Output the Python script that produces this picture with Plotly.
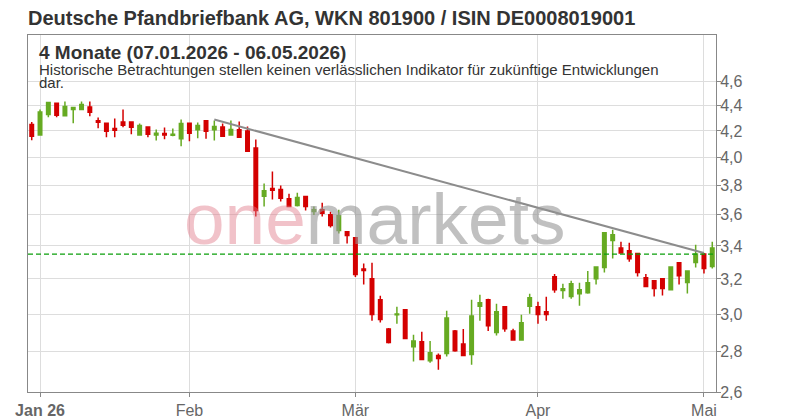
import plotly.graph_objects as go
import pandas as pd
import math

# trading days (Xetra), 06.01.2026 - 05.05.2026
holidays = ["2026-04-03", "2026-04-06", "2026-05-01"]
dates = [d.strftime("%Y-%m-%d") for d in pd.bdate_range("2026-01-06", "2026-05-05")
         if d.strftime("%Y-%m-%d") not in holidays]

open_ = [4.25, 4.17, 4.33, 4.42, 4.32, 4.37, 4.37, 4.39, 4.28, 4.26,
         4.22, 4.27, 4.27, 4.17, 4.23, 4.17, 4.18, 4.167, 4.14, 4.26,
         4.21, 4.28, 4.21, 4.23, 4.17, 4.21, 4.20, 4.07, 3.725, 3.778,
         3.771, 3.709, 3.663, 3.723, 3.623, 3.634, 3.601, 3.498, 3.490, 3.452,
         3.260, 3.201, 3.080, 2.919, 2.996, 3.024, 2.826, 2.851, 2.754, 2.780,
         2.790, 2.909, 2.840, 2.785, 3.043, 3.080, 2.900, 3.041, 2.909, 2.861,
         3.043, 3.041, 3.013, 3.213, 3.133, 3.099, 3.114, 3.120, 3.201, 3.268,
         3.434, 3.388, 3.370, 3.353, 3.207, 3.189, 3.201, 3.137, 3.297, 3.179,
         3.299, 3.351, 3.274]
high = [4.27, 4.37, 4.426, 4.418, 4.434, 4.385, 4.434, 4.434, 4.305, 4.258,
        4.297, 4.369, 4.266, 4.258, 4.234, 4.211, 4.227, 4.219, 4.289, 4.266,
        4.266, 4.281, 4.281, 4.258, 4.281, 4.274, 4.234, 4.134, 3.813, 3.898,
        3.799, 3.743, 3.750, 3.723, 3.656, 3.681, 3.621, 3.634, 3.490, 3.452,
        3.292, 3.297, 3.103, 2.925, 3.041, 3.024, 2.888, 2.904, 2.856, 2.790,
        3.018, 2.914, 2.919, 3.080, 3.109, 3.086, 3.058, 3.041, 2.921, 2.996,
        3.114, 3.069, 3.097, 3.230, 3.172, 3.189, 3.178, 3.248, 3.272, 3.483,
        3.503, 3.427, 3.421, 3.357, 3.230, 3.189, 3.201, 3.272, 3.297, 3.248,
        3.407, 3.357, 3.427]
low = [4.13, 4.17, 4.307, 4.307, 4.323, 4.260, 4.371, 4.315, 4.221, 4.151,
       4.151, 4.229, 4.174, 4.174, 4.151, 4.128, 4.136, 4.159, 4.083, 4.121,
       4.144, 4.141, 4.128, 4.159, 4.167, 4.151, 4.047, 3.590, 3.656, 3.704,
       3.690, 3.656, 3.656, 3.629, 3.599, 3.590, 3.518, 3.479, 3.415, 3.211,
       3.168, 2.964, 2.954, 2.842, 2.948, 2.868, 2.750, 2.760, 2.744, 2.709,
       2.775, 2.800, 2.780, 2.734, 2.964, 2.909, 2.884, 2.904, 2.861, 2.861,
       3.002, 2.948, 2.964, 3.120, 3.086, 3.086, 3.047, 3.114, 3.168, 3.238,
       3.323, 3.357, 3.303, 3.215, 3.156, 3.099, 3.105, 3.137, 3.168, 3.116,
       3.268, 3.232, 3.262]
close = [4.16, 4.35, 4.426, 4.323, 4.393, 4.385, 4.409, 4.347, 4.268, 4.198,
         4.206, 4.245, 4.229, 4.242, 4.174, 4.182, 4.170, 4.174, 4.258, 4.182,
         4.242, 4.198, 4.234, 4.159, 4.211, 4.151, 4.047, 3.629, 3.764, 3.766,
         3.711, 3.656, 3.716, 3.656, 3.634, 3.610, 3.531, 3.594, 3.466, 3.227,
         3.250, 2.998, 2.970, 2.847, 3.001, 2.868, 2.856, 2.760, 2.794, 2.765,
         2.979, 2.805, 2.780, 2.990, 3.063, 2.936, 3.013, 2.920, 2.861, 2.953,
         3.091, 2.998, 2.998, 3.137, 3.143, 3.172, 3.137, 3.178, 3.272, 3.483,
         3.471, 3.357, 3.321, 3.238, 3.156, 3.145, 3.145, 3.272, 3.219, 3.248,
         3.351, 3.262, 3.388]

trend_idx = [22, 81]
trend_values = [4.289, 3.356]
ref_level = 3.35

x_tick_idx = [1, 19, 39, 61, 81]
x_tick_text = ["<b>Jan 26</b>", "Feb", "Mär", "Apr", "Mai"]
y_ticks = [2.6, 2.8, 3.0, 3.2, 3.4, 3.6, 3.8, 4.0, 4.2, 4.4, 4.6]
y_tick_text = ["2,6", "2,8", "3,0", "3,2", "3,4", "3,6", "3,8", "4,0", "4,2", "4,4", "4,6"]

GREEN = "#66aa22"
RED = "#d40000"
FONT = "Liberation Sans, Arial, sans-serif"

# the page body adds an 8px offset; figure is sized so the plot lands where the reference has it
W, H = 792, 412
L, T, PW, PH = 20, 27, 688, 357

fig = go.Figure()

fig.add_trace(go.Candlestick(
    x=dates, open=open_, high=high, low=low, close=close,
    increasing=dict(line=dict(color=GREEN, width=1.5), fillcolor=GREEN),
    decreasing=dict(line=dict(color=RED, width=1.5), fillcolor=RED),
    whiskerwidth=0, showlegend=False, hoverinfo="skip",
))

fig.add_trace(go.Scatter(
    x=[dates[i] for i in trend_idx], y=trend_values, mode="lines",
    line=dict(color="#8c8c8c", width=2), showlegend=False, hoverinfo="skip",
))

fig.add_shape(type="line", xref="paper", x0=0, x1=1, yref="y", y0=ref_level, y1=ref_level,
              line=dict(color="#0a9e0a", width=1.2, dash="5px,3px"), layer="above")

# watermark
fig.add_annotation(
    xref="paper", yref="paper", x=0.503, y=0.487, xanchor="center", yanchor="middle",
    text="<span style='color:rgba(225,120,135,0.45)'>one</span><span style='color:rgba(150,150,150,0.6)'>markets</span>",
    showarrow=False, font=dict(family=FONT, size=73),
)

fig.add_annotation(xref="paper", yref="paper", x=0.013, y=0.9496, xanchor="left", yanchor="middle",
                   text="<b>4 Monate (07.01.2026 - 06.05.2026)</b>", showarrow=False,
                   font=dict(family=FONT, size=19, color="#333333"))
fig.add_annotation(xref="paper", yref="paper", x=0.013, y=0.902, xanchor="left", yanchor="middle",
                   text="Historische Betrachtungen stellen keinen verlässlichen Indikator für zukünftige Entwicklungen",
                   showarrow=False, font=dict(family=FONT, size=15, color="#333333"))
fig.add_annotation(xref="paper", yref="paper", x=0.013, y=0.867, xanchor="left", yanchor="middle",
                   text="dar.", showarrow=False, font=dict(family=FONT, size=15, color="#333333"))

fig.update_layout(
    width=W, height=H,
    margin=dict(l=L, r=W - L - PW, t=T, b=H - T - PH, autoexpand=False),
    paper_bgcolor="white", plot_bgcolor="white",
    title=dict(text="<b>Deutsche Pfandbriefbank AG, WKN 801900 / ISIN DE0008019001</b>",
               x=L / W, xanchor="left", y=1 - 10 / H, yanchor="middle",
               font=dict(family=FONT, size=20, color="#333333")),
    boxgap=0.4,
    xaxis=dict(type="category", range=[-0.45, 82.45], rangeslider=dict(visible=False),
               automargin=False,
               tickmode="array", tickvals=[dates[i] for i in x_tick_idx], ticktext=x_tick_text,
               showgrid=True, gridcolor="#dddddd", gridwidth=1,
               showline=True, linecolor="#888888", linewidth=1, mirror=True,
               ticks="outside", ticklen=4, tickcolor="#888888",
               tickfont=dict(family=FONT, size=16, color="#666666")),
    yaxis=dict(type="log", range=[math.log10(2.6), math.log10(5.01)], side="right",
               automargin=False,
               tickmode="array", tickvals=y_ticks, ticktext=y_tick_text,
               showgrid=True, gridcolor="#dddddd", gridwidth=1,
               showline=True, linecolor="#888888", linewidth=1, mirror=True,
               ticks="outside", ticklen=4, tickcolor="#888888", ticklabelstandoff=-4,
               tickfont=dict(family=FONT, size=16, color="#666666"),
               zeroline=False),
)

fig.write_html("out.html")
